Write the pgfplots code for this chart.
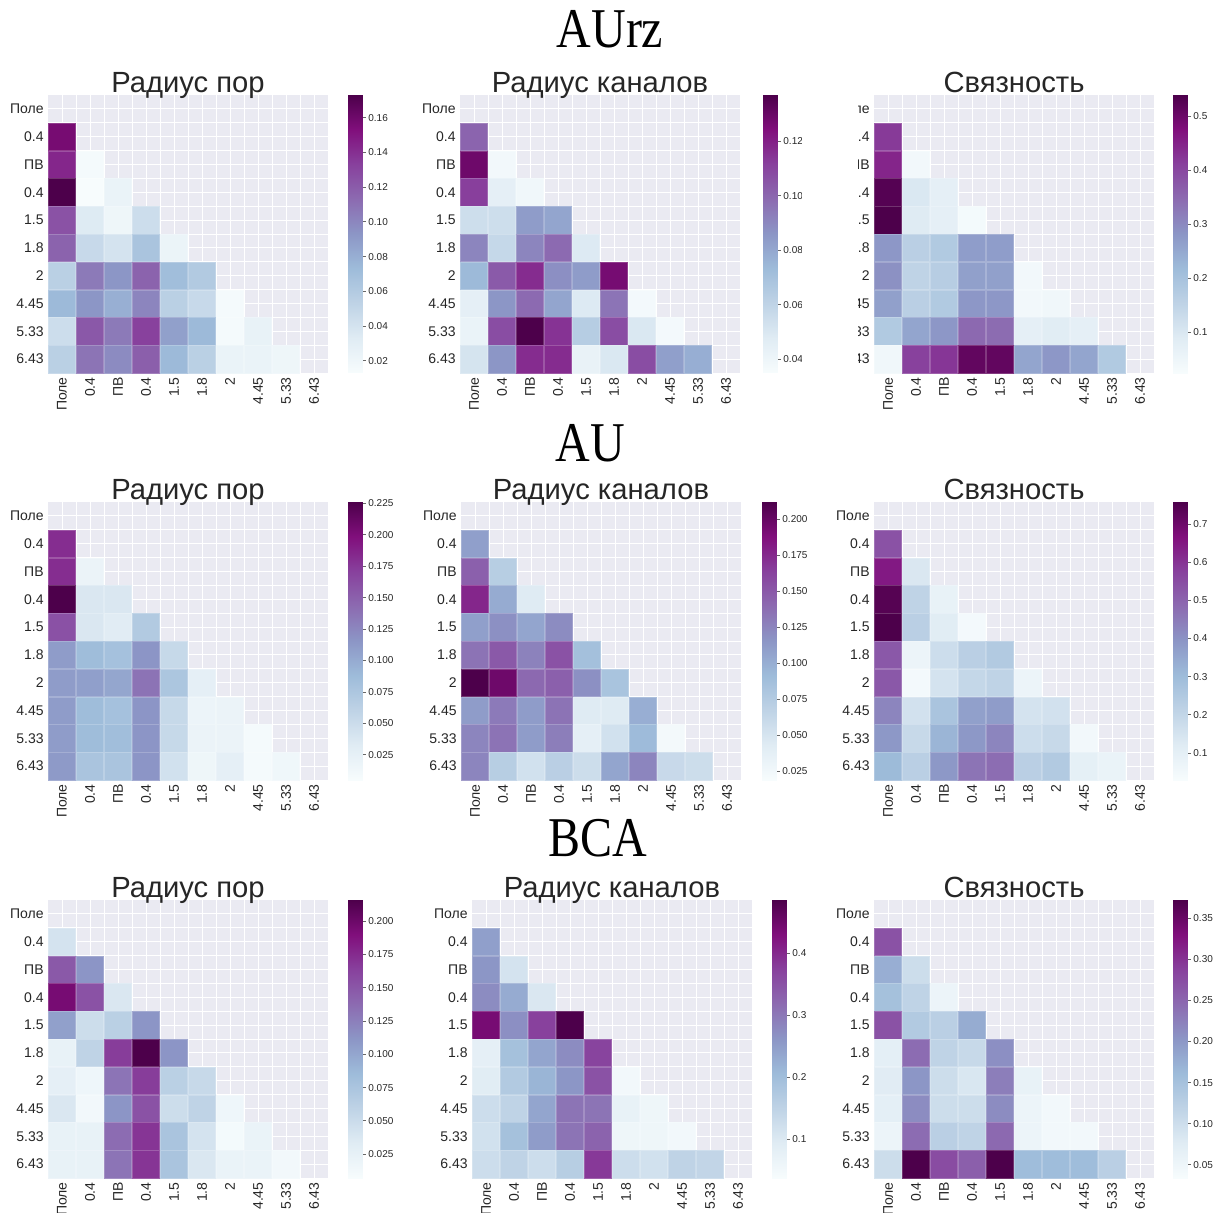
\documentclass[border=0pt]{standalone}
\usepackage{fontspec}
\setmainfont{Liberation Sans}
\newfontfamily\tnr{Liberation Serif}
\usepackage{graphicx}
\usepackage{pgfplots}
\usepackage{pgfplotstable}
\pgfplotsset{compat=1.18}
\definecolor{bgc}{HTML}{EAEAF2}
\definecolor{txt}{HTML}{262626}

\pgfplotstableread{
x y c
0 1 0.157
0 2 0.144
1 2 0.016
0 3 0.173
1 3 0.013
2 3 0.024
0 4 0.125
1 4 0.034
2 4 0.021
3 4 0.045
0 5 0.117
1 5 0.048
2 5 0.040
3 5 0.066
4 5 0.023
0 6 0.056
1 6 0.106
2 6 0.093
3 6 0.117
4 6 0.071
5 6 0.061
0 7 0.074
1 7 0.093
2 7 0.080
3 7 0.101
4 7 0.056
5 7 0.048
6 7 0.016
0 8 0.045
1 8 0.122
2 8 0.106
3 8 0.133
4 8 0.088
5 8 0.074
6 8 0.016
7 8 0.026
0 9 0.056
1 9 0.109
2 9 0.098
3 9 0.119
4 9 0.074
5 9 0.056
6 9 0.024
7 9 0.024
8 9 0.021
}\tA
\pgfplotstableread{
x y c
0 1 0.101
0 2 0.129
1 2 0.038
0 3 0.112
1 3 0.045
2 3 0.039
0 4 0.055
1 4 0.055
2 4 0.084
3 4 0.081
0 5 0.091
1 5 0.058
2 5 0.091
3 5 0.099
4 5 0.049
0 6 0.074
1 6 0.104
2 6 0.117
3 6 0.088
4 6 0.084
5 6 0.127
0 7 0.045
1 7 0.086
2 7 0.099
3 7 0.081
4 7 0.049
5 7 0.096
6 7 0.037
0 8 0.042
1 8 0.108
2 8 0.137
3 8 0.115
4 8 0.064
5 8 0.108
6 8 0.050
7 8 0.037
0 9 0.052
1 9 0.086
2 9 0.117
3 9 0.117
4 9 0.043
5 9 0.050
6 9 0.108
7 9 0.083
8 9 0.078
}\tB
\pgfplotstableread{
x y c
0 1 0.420
0 2 0.447
1 2 0.040
0 3 0.529
1 3 0.100
2 3 0.076
0 4 0.539
1 4 0.092
2 4 0.076
3 4 0.035
0 5 0.280
1 5 0.164
2 5 0.180
3 5 0.270
4 5 0.270
0 6 0.290
1 6 0.153
2 6 0.170
3 6 0.265
4 6 0.265
5 6 0.040
0 7 0.265
1 7 0.164
2 7 0.180
3 7 0.280
4 7 0.280
5 7 0.040
6 7 0.045
0 8 0.180
1 8 0.256
2 8 0.280
3 8 0.350
4 8 0.345
5 8 0.076
6 8 0.087
7 8 0.076
0 9 0.045
1 9 0.410
2 9 0.425
3 9 0.513
4 9 0.513
5 9 0.256
6 9 0.280
7 9 0.256
8 9 0.180
}\tC
\pgfplotstableread{
x y c
0 1 0.182
0 2 0.182
1 2 0.020
0 3 0.226
1 3 0.038
2 3 0.038
0 4 0.160
1 4 0.038
2 4 0.032
3 4 0.071
0 5 0.111
1 5 0.087
2 5 0.082
3 5 0.116
4 5 0.054
0 6 0.111
1 6 0.109
2 6 0.104
3 6 0.138
4 6 0.076
5 6 0.027
0 7 0.111
1 7 0.087
2 7 0.082
3 7 0.116
4 7 0.054
5 7 0.018
6 7 0.020
0 8 0.111
1 8 0.087
2 8 0.085
3 8 0.116
4 8 0.054
5 8 0.020
6 8 0.020
7 8 0.009
0 9 0.113
1 9 0.078
2 9 0.078
3 9 0.116
4 9 0.045
5 9 0.016
6 9 0.027
7 9 0.009
8 9 0.014
}\tD
\pgfplotstableread{
x y c
0 1 0.110
0 2 0.146
1 2 0.073
0 3 0.177
1 3 0.102
2 3 0.044
0 4 0.110
1 4 0.119
2 4 0.106
3 4 0.121
0 5 0.135
1 5 0.150
2 5 0.127
3 5 0.154
4 5 0.087
0 6 0.212
1 6 0.197
2 6 0.141
3 6 0.146
4 6 0.119
5 6 0.083
0 7 0.112
1 7 0.131
2 7 0.112
3 7 0.135
4 7 0.044
5 7 0.044
6 7 0.100
0 8 0.125
1 8 0.135
2 8 0.112
3 8 0.129
4 8 0.038
5 8 0.054
6 8 0.092
7 8 0.023
0 9 0.125
1 9 0.073
2 9 0.054
3 9 0.071
4 9 0.058
5 9 0.106
6 9 0.125
7 9 0.061
8 9 0.058
}\tE
\pgfplotstableread{
x y c
0 1 0.540
0 2 0.649
1 2 0.138
0 3 0.743
1 3 0.211
2 3 0.087
0 4 0.758
1 4 0.226
2 4 0.116
3 4 0.044
0 5 0.525
1 5 0.073
2 5 0.175
3 5 0.226
4 5 0.248
0 6 0.525
1 6 0.044
2 6 0.153
3 6 0.197
4 6 0.211
5 6 0.073
0 7 0.430
1 7 0.160
2 7 0.270
3 7 0.370
4 7 0.380
5 7 0.153
6 7 0.160
0 8 0.390
1 8 0.190
2 8 0.320
3 8 0.390
4 8 0.430
5 8 0.175
6 8 0.190
7 8 0.050
0 9 0.306
1 9 0.226
2 9 0.390
3 9 0.466
4 9 0.480
5 9 0.226
6 9 0.248
7 9 0.100
8 9 0.080
}\tF
\pgfplotstableread{
x y c
0 1 0.043
0 2 0.149
1 2 0.112
0 3 0.195
1 3 0.153
2 3 0.038
0 4 0.105
1 4 0.049
2 4 0.063
3 4 0.112
0 5 0.024
1 5 0.059
2 5 0.166
3 5 0.216
4 5 0.112
0 6 0.028
1 6 0.017
2 6 0.132
3 6 0.166
4 6 0.063
5 6 0.053
0 7 0.038
1 7 0.013
2 7 0.112
3 7 0.153
4 7 0.049
5 7 0.059
6 7 0.017
0 8 0.024
1 8 0.024
2 8 0.137
3 8 0.170
4 8 0.076
5 8 0.043
6 8 0.011
7 8 0.022
0 9 0.024
1 9 0.024
2 9 0.132
3 9 0.170
4 9 0.076
5 9 0.038
6 9 0.022
7 9 0.022
8 9 0.013
}\tG
\pgfplotstableread{
x y c
0 1 0.249
0 2 0.262
1 2 0.114
0 3 0.275
1 3 0.231
2 3 0.105
0 4 0.441
1 4 0.271
2 4 0.374
3 4 0.486
0 5 0.083
1 5 0.195
2 5 0.240
3 5 0.275
4 5 0.370
0 6 0.092
1 6 0.172
2 6 0.217
3 6 0.262
4 6 0.352
5 6 0.051
0 7 0.128
1 7 0.150
2 7 0.240
3 7 0.307
4 7 0.307
5 7 0.074
6 7 0.060
0 8 0.119
1 8 0.195
2 8 0.253
3 8 0.307
4 8 0.329
5 8 0.060
6 8 0.060
7 8 0.051
0 9 0.128
1 9 0.150
2 9 0.128
3 9 0.163
4 9 0.383
5 9 0.128
6 9 0.119
7 9 0.150
8 9 0.145
}\tH
\pgfplotstableread{
x y c
0 1 0.271
0 2 0.176
1 2 0.102
0 3 0.152
1 3 0.118
2 3 0.054
0 4 0.271
1 4 0.135
2 4 0.125
3 4 0.179
0 5 0.068
1 5 0.244
2 5 0.118
3 5 0.108
4 5 0.210
0 6 0.075
1 6 0.203
2 6 0.102
3 6 0.085
4 6 0.227
5 6 0.061
0 7 0.068
1 7 0.213
2 7 0.102
3 7 0.102
4 7 0.213
5 7 0.054
6 7 0.044
0 8 0.054
1 8 0.244
2 8 0.125
3 8 0.118
4 8 0.247
5 8 0.054
6 8 0.044
7 8 0.044
0 9 0.102
1 9 0.372
2 9 0.277
3 9 0.257
4 9 0.372
5 9 0.159
6 9 0.159
7 9 0.159
8 9 0.125
}\tI

\pgfplotsset{
  colormap={bupu}{rgb255=(247,252,253) rgb255=(224,236,244) rgb255=(191,211,230) rgb255=(158,188,218) rgb255=(140,150,198) rgb255=(140,107,177) rgb255=(136,65,157) rgb255=(129,15,124) rgb255=(77,0,75)},
  hm/.style={
    scale only axis, width=140pt, height=139pt,
    anchor=north west,
    xmin=-0.5, xmax=9.5, ymin=-0.5, ymax=9.5, y dir=reverse,
    axis background/.style={fill=bgc},
    axis line style={draw=none},
    xtick={0,...,9}, ytick={0,...,9},
    minor xtick={0.5,1.5,...,8.5}, minor ytick={0.5,1.5,...,8.5},
    xticklabels={Поле,0.4,ПВ,0.4,1.5,1.8,2,4.45,5.33,6.43},
    yticklabels={Поле,0.4,ПВ,0.4,1.5,1.8,2,4.45,5.33,6.43},
    major tick length=0pt, minor tick length=0pt,
    grid=both,
    major grid style={white, line width=0.45pt},
    minor grid style={white, line width=0.45pt},
    xticklabel style={rotate=90, anchor=east, font=\fontsize{7}{8}\selectfont, text=txt, inner sep=2pt},
    yticklabel style={font=\fontsize{7}{8}\selectfont, text=txt, inner sep=2pt},
    title style={font=\fontsize{14.6}{15}\selectfont, text=txt, at={(0.5,1)}, anchor=base, yshift=-4.8pt},
    colormap name=bupu,
  },
  cbar/.style={
    scale only axis, width=7pt, height=139pt, anchor=north west,
    xmin=0, xmax=1, enlargelimits=false,
    xtick=\empty, axis line style={draw=none},
    ytick pos=right, yticklabel pos=right,
    tick align=outside, major tick length=2pt,
    tick style={draw=txt!70, line width=0.4pt},
    scaled y ticks=false,
    colormap name=bupu,
  },
  cbl/.style={yticklabel style={font=\fontsize{5}{6}\selectfont, text=txt, inner sep=1pt,
        /pgf/number format/.cd, fixed, fixed zerofill, precision=#1, assume math mode=true}},
  cbfill/.style={surf, shader=interp, point meta=y, mesh/cols=2},
}

\begin{document}
\begin{tikzpicture}
\path[use as bounding box] (0,0) rectangle (609.5pt,606pt);

% section titles
\node[font=\tnr\fontsize{24}{24}\selectfont] at (305pt,591.5pt) {\scalebox{1}[1.17]{AUrz}};
\node[font=\tnr\fontsize{24}{24}\selectfont] at (295pt,384.5pt) {\scalebox{1}[1.17]{AU}};
\node[font=\tnr\fontsize{24}{24}\selectfont] at (299pt,187pt) {\scalebox{1}[1.17]{BCA}};

% ===== Row 1: AUrz =====
\begin{axis}[hm, at={(24pt,558.5pt)}, title={Радиус пор},
  point meta min=0.013, point meta max=0.173]
\addplot[scatter, only marks, mark=square*, mark size=6.85pt, point meta=explicit,
  scatter/use mapped color={draw=mapped color!80!white, fill=mapped color},
  mark options={line width=0.3pt}] table[x=x,y=y,meta=c]{\tA};
\end{axis}
\begin{axis}[cbar, cbl=2, at={(174pt,558.5pt)}, ymin=0.013, ymax=0.173,
  ytick={0.02,0.04,0.06,0.08,0.10,0.12,0.14,0.16}]
\addplot[cbfill] coordinates {(0,0.013) (1,0.013) (0,0.173) (1,0.173)};
\end{axis}

\begin{axis}[hm, at={(230pt,558.5pt)}, title={Радиус каналов},
  point meta min=0.035, point meta max=0.137]
\addplot[scatter, only marks, mark=square*, mark size=6.85pt, point meta=explicit,
  scatter/use mapped color={draw=mapped color!80!white, fill=mapped color},
  mark options={line width=0.3pt}] table[x=x,y=y,meta=c]{\tB};
\end{axis}
\begin{axis}[cbar, cbl=2, at={(381.5pt,558.5pt)}, ymin=0.035, ymax=0.137,
  ytick={0.04,0.06,0.08,0.10,0.12}]
\addplot[cbfill] coordinates {(0,0.035) (1,0.035) (0,0.137) (1,0.137)};
\end{axis}

\begin{axis}[hm, at={(437pt,558.5pt)}, title={Связность},
  point meta min=0.025, point meta max=0.539]
\addplot[scatter, only marks, mark=square*, mark size=6.85pt, point meta=explicit,
  scatter/use mapped color={draw=mapped color!80!white, fill=mapped color},
  mark options={line width=0.3pt}] table[x=x,y=y,meta=c]{\tC};
\end{axis}
\begin{axis}[cbar, cbl=1, at={(586.5pt,558.5pt)}, ymin=0.025, ymax=0.539,
  ytick={0.1,0.2,0.3,0.4,0.5}]
\addplot[cbfill] coordinates {(0,0.025) (1,0.025) (0,0.539) (1,0.539)};
\end{axis}

% ===== Row 2: AU =====
\begin{axis}[hm, at={(24pt,355pt)}, title={Радиус пор},
  point meta min=0.005, point meta max=0.226]
\addplot[scatter, only marks, mark=square*, mark size=6.85pt, point meta=explicit,
  scatter/use mapped color={draw=mapped color!80!white, fill=mapped color},
  mark options={line width=0.3pt}] table[x=x,y=y,meta=c]{\tD};
\end{axis}
\begin{axis}[cbar, cbl=3, at={(174pt,355pt)}, ymin=0.005, ymax=0.226,
  ytick={0.025,0.05,0.075,0.1,0.125,0.15,0.175,0.2,0.225}]
\addplot[cbfill] coordinates {(0,0.005) (1,0.005) (0,0.226) (1,0.226)};
\end{axis}

\begin{axis}[hm, at={(230.5pt,355pt)}, title={Радиус каналов},
  point meta min=0.019, point meta max=0.212]
\addplot[scatter, only marks, mark=square*, mark size=6.85pt, point meta=explicit,
  scatter/use mapped color={draw=mapped color!80!white, fill=mapped color},
  mark options={line width=0.3pt}] table[x=x,y=y,meta=c]{\tE};
\end{axis}
\begin{axis}[cbar, cbl=3, at={(381pt,355pt)}, ymin=0.019, ymax=0.212,
  ytick={0.025,0.05,0.075,0.1,0.125,0.15,0.175,0.2}]
\addplot[cbfill] coordinates {(0,0.019) (1,0.019) (0,0.212) (1,0.212)};
\end{axis}

\begin{axis}[hm, at={(437pt,355pt)}, title={Связность},
  point meta min=0.029, point meta max=0.758]
\addplot[scatter, only marks, mark=square*, mark size=6.85pt, point meta=explicit,
  scatter/use mapped color={draw=mapped color!80!white, fill=mapped color},
  mark options={line width=0.3pt}] table[x=x,y=y,meta=c]{\tF};
\end{axis}
\begin{axis}[cbar, cbl=1, at={(586.5pt,355pt)}, ymin=0.029, ymax=0.758,
  ytick={0.1,0.2,0.3,0.4,0.5,0.6,0.7}]
\addplot[cbfill] coordinates {(0,0.029) (1,0.029) (0,0.758) (1,0.758)};
\end{axis}

% ===== Row 3: BCA =====
\begin{axis}[hm, at={(24pt,156pt)}, title={Радиус пор},
  point meta min=0.007, point meta max=0.216]
\addplot[scatter, only marks, mark=square*, mark size=6.85pt, point meta=explicit,
  scatter/use mapped color={draw=mapped color!80!white, fill=mapped color},
  mark options={line width=0.3pt}] table[x=x,y=y,meta=c]{\tG};
\end{axis}
\begin{axis}[cbar, cbl=3, at={(174pt,156pt)}, ymin=0.007, ymax=0.216,
  ytick={0.025,0.05,0.075,0.1,0.125,0.15,0.175,0.2}]
\addplot[cbfill] coordinates {(0,0.007) (1,0.007) (0,0.216) (1,0.216)};
\end{axis}

\begin{axis}[hm, at={(236pt,156pt)}, title={Радиус каналов},
  point meta min=0.038, point meta max=0.486]
\addplot[scatter, only marks, mark=square*, mark size=6.85pt, point meta=explicit,
  scatter/use mapped color={draw=mapped color!80!white, fill=mapped color},
  mark options={line width=0.3pt}] table[x=x,y=y,meta=c]{\tH};
\end{axis}
\begin{axis}[cbar, cbl=1, at={(386pt,156pt)}, ymin=0.038, ymax=0.486,
  ytick={0.1,0.2,0.3,0.4}]
\addplot[cbfill] coordinates {(0,0.038) (1,0.038) (0,0.486) (1,0.486)};
\end{axis}

\begin{axis}[hm, at={(437pt,156pt)}, title={Связность},
  point meta min=0.034, point meta max=0.372]
\addplot[scatter, only marks, mark=square*, mark size=6.85pt, point meta=explicit,
  scatter/use mapped color={draw=mapped color!80!white, fill=mapped color},
  mark options={line width=0.3pt}] table[x=x,y=y,meta=c]{\tI};
\end{axis}
\begin{axis}[cbar, cbl=2, at={(586.5pt,156pt)}, ymin=0.034, ymax=0.372,
  ytick={0.05,0.1,0.15,0.2,0.25,0.3,0.35}]
\addplot[cbfill] coordinates {(0,0.034) (1,0.034) (0,0.372) (1,0.372)};
\end{axis}

% clipped labels of the top-right panel, as in the reference
\fill[white] (401pt,418pt) rectangle (429pt,562pt);
\end{tikzpicture}
\end{document}
